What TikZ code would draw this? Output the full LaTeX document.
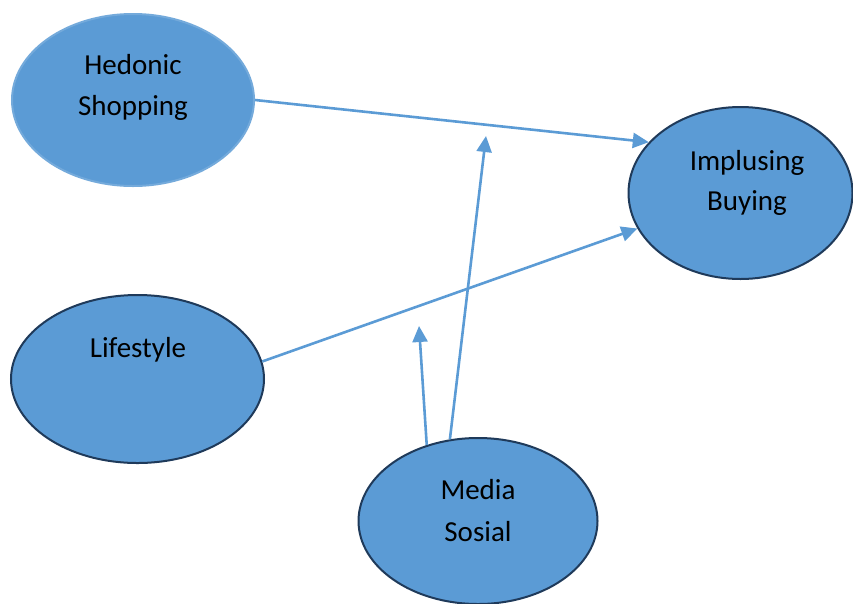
\documentclass[tikz,border=0pt]{standalone}
\usepackage{fontspec}
\setmainfont{Carlito}
\usetikzlibrary{shapes.geometric,arrows.meta}
\definecolor{bubble}{HTML}{5B9BD5}
\definecolor{rim}{HTML}{1F3A5A}
\definecolor{link}{HTML}{5B9BD5}
\begin{document}
\begin{tikzpicture}[x=1pt,y=-1pt,
  construct/.style={ellipse,fill=bubble,draw=rim,line width=2pt,inner sep=0pt},
  softrim/.style={draw=bubble!85!white},
  caption/.style={anchor=base,inner sep=0pt,font=\fontsize{29}{35}\selectfont},
  path/.style={draw=link,line width=2.6pt,-{Triangle[length=16pt,width=15pt]}}]
  \useasboundingbox (0,0) rectangle (853,603);

  % constructs
  \node[construct,softrim,minimum width=242pt,minimum height=172pt] (hed) at (133,100) {};
  \node[construct,minimum width=224pt,minimum height=172pt] (imp) at (740.5,193) {};
  \node[construct,minimum width=253pt,minimum height=168pt] (life) at (137.5,379) {};
  \node[construct,minimum width=239pt,minimum height=166pt] (med) at (478,521) {};

  % labels
  \node[caption] (hedA) at (133,74) {Hedonic};
  \node[caption] (hedB) at (133,115) {Shopping};
  \node[caption] (impA) at (747,170) {Implusing};
  \node[caption] (impB) at (747,210) {Buying};
  \node[caption] (lifeA) at (138,357) {Lifestyle};
  \node[caption] (medA) at (478,499) {Media};
  \node[caption] (medB) at (478,541) {Sosial};

  % moderating ends
  \coordinate (modA) at (486,136);
  \coordinate (modB) at (419,326);

  % relations
  \draw[path] (hed.east) -- (imp.151.4);
  \draw[path] (life.8.7) -- (imp.199.3);
  \draw[path] (med.109.3) -- (modA);
  \draw[path] (med.124.4) -- (modB);
\end{tikzpicture}
\end{document}
